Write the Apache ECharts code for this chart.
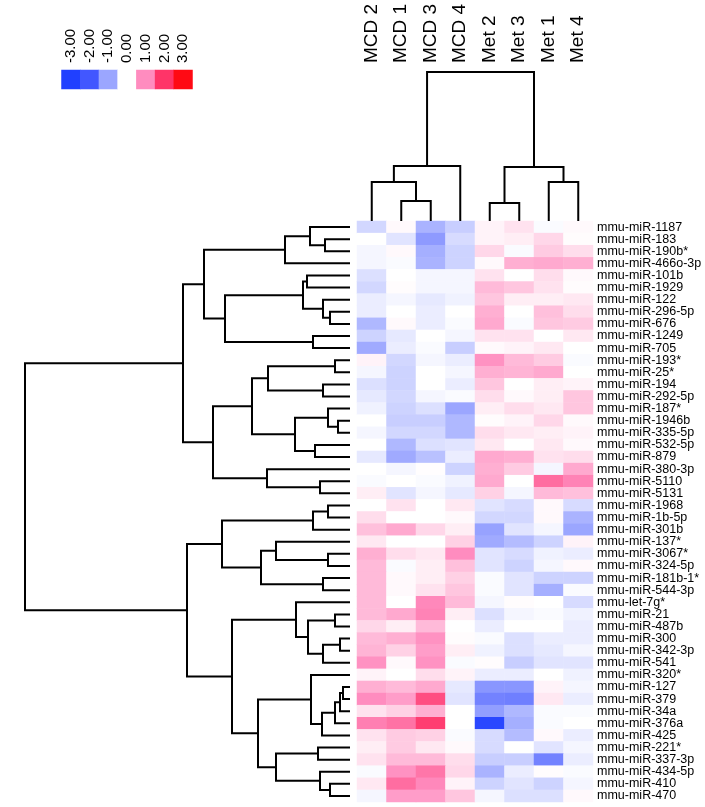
<!DOCTYPE html>
<html>
<head>
<meta charset="utf-8">
<script src="https://cdn.jsdelivr.net/npm/echarts@6/dist/echarts.min.js"></script>
<style>
html,body{margin:0;padding:0;background:#fff;}
#chart{width:705px;height:807px;}
</style>
</head>
<body>
<div id="chart"></div>
<script>
// Samples (columns, in dendrogram order)
const samples = ['MCD 2','MCD 1','MCD 3','MCD 4','Met 2','Met 3','Met 1','Met 4'];

// miRNAs (rows, in dendrogram order)
const mirnas = ['mmu-miR-1187','mmu-miR-183','mmu-miR-190b*','mmu-miR-466o-3p','mmu-miR-101b',
  'mmu-miR-1929','mmu-miR-122','mmu-miR-296-5p','mmu-miR-676','mmu-miR-1249','mmu-miR-705',
  'mmu-miR-193*','mmu-miR-25*','mmu-miR-194','mmu-miR-292-5p','mmu-miR-187*','mmu-miR-1946b',
  'mmu-miR-335-5p','mmu-miR-532-5p','mmu-miR-879','mmu-miR-380-3p','mmu-miR-5110','mmu-miR-5131',
  'mmu-miR-1968','mmu-miR-1b-5p','mmu-miR-301b','mmu-miR-137*','mmu-miR-3067*','mmu-miR-324-5p',
  'mmu-miR-181b-1*','mmu-miR-544-3p','mmu-let-7g*','mmu-miR-21','mmu-miR-487b','mmu-miR-300',
  'mmu-miR-342-3p','mmu-miR-541','mmu-miR-320*','mmu-miR-127','mmu-miR-379','mmu-miR-34a',
  'mmu-miR-376a','mmu-miR-425','mmu-miR-221*','mmu-miR-337-3p','mmu-miR-434-5p','mmu-miR-410','mmu-miR-470'];

// Standardised expression, one list per miRNA, columns in `samples` order
const values = [
  [-0.45, 0.05,-0.85,-0.55, 0.10, 0.25,-0.05, 0.05],
  [ 0.00,-0.30,-1.15,-0.40, 0.10, 0.15, 0.35, 0.03],
  [-0.10, 0.05,-0.90,-0.50, 0.35,-0.05, 0.45, 0.30],
  [-0.10,-0.05,-0.85,-0.50, 0.05, 0.70, 0.75, 0.70],
  [-0.35, 0.00,-0.10,-0.10, 0.25, 0.00, 0.30, 0.05],
  [-0.45, 0.03,-0.10,-0.10, 0.60, 0.50, 0.25, 0.03],
  [-0.20,-0.10,-0.25,-0.15, 0.50, 0.15, 0.15, 0.20],
  [-0.20, 0.00,-0.20, 0.00, 0.70, 0.00, 0.55, 0.30],
  [-0.80, 0.05,-0.20,-0.05, 0.75,-0.05, 0.50, 0.45],
  [-0.50,-0.25, 0.00,-0.10, 0.25, 0.25, 0.00, 0.20],
  [-0.95,-0.20,-0.05,-0.55, 0.05, 0.10, 0.20, 0.00],
  [ 0.10,-0.45,-0.10,-0.20, 0.95, 0.60, 0.45,-0.05],
  [-0.10,-0.50, 0.00,-0.10, 0.70, 0.65, 0.75, 0.00],
  [-0.35,-0.50, 0.00,-0.20, 0.50, 0.00, 0.15, 0.10],
  [-0.25,-0.45,-0.10,-0.05, 0.30, 0.05, 0.15, 0.50],
  [-0.15,-0.50,-0.35,-1.00, 0.15, 0.30, 0.20, 0.50],
  [ 0.00,-0.55,-0.55,-0.80, 0.03, 0.10, 0.35, 0.05],
  [-0.10,-0.45,-0.45,-0.80, 0.30, 0.20, 0.15, 0.10],
  [ 0.00,-0.80,-0.35,-0.30, 0.20, 0.00, 0.20, 0.05],
  [-0.25,-0.95,-0.70,-0.20, 0.75, 0.70, 0.25, 0.30],
  [ 0.00,-0.10, 0.02,-0.50, 0.70, 0.45,-0.10, 0.75],
  [-0.05, 0.00,-0.05,-0.15, 0.75, 0.00, 1.35, 1.10],
  [ 0.15,-0.30,-0.10,-0.25, 0.40,-0.10, 0.60, 0.55],
  [ 0.00, 0.25, 0.00, 0.20,-0.30,-0.40, 0.05,-0.40],
  [ 0.30, 0.00, 0.00, 0.05,-0.45,-0.45, 0.05,-0.85],
  [ 0.55, 0.75, 0.35, 0.15,-1.05,-0.30,-0.10,-1.00],
  [ 0.20, 0.00, 0.00, 0.40,-0.95,-0.75,-0.50, 0.10],
  [ 0.70, 0.30, 0.20, 1.00,-0.30,-0.40,-0.15,-0.20],
  [ 0.60,-0.05, 0.15, 0.55,-0.30,-0.50,-0.10, 0.05],
  [ 0.60, 0.05, 0.15, 0.40,-0.05,-0.30,-0.50,-0.50],
  [ 0.60, 0.05, 0.25, 0.50,-0.05,-0.30,-0.90,-0.05],
  [ 0.60, 0.00, 1.05, 0.60,-0.10, 0.03, 0.00,-0.40],
  [ 0.60, 0.75, 1.10, 0.15,-0.35,-0.10,-0.05,-0.15],
  [ 0.35, 0.15, 0.60, 0.00,-0.20, 0.00, 0.00,-0.20],
  [ 0.60, 0.70, 0.95, 0.03,-0.05,-0.35,-0.20,-0.20],
  [ 0.65, 0.40, 0.85, 0.15,-0.15,-0.35,-0.25,-0.10],
  [ 0.95, 0.05, 0.95,-0.05, 0.03,-0.55,-0.30,-0.30],
  [ 0.10, 0.00, 0.30, 0.10,-0.20,-0.20, 0.00,-0.15],
  [ 0.70, 0.60, 0.75,-0.25,-1.20,-1.20, 0.10,-0.10],
  [ 1.00, 0.85, 1.70,-0.30,-1.45,-1.50, 0.20,-0.20],
  [ 0.25, 0.40, 0.70, 0.00,-1.10,-0.80,-0.05,-0.05],
  [ 1.15, 1.30, 1.90, 0.00,-2.70,-0.90,-0.05, 0.00],
  [ 0.25, 0.45, 0.40,-0.05,-0.40,-0.75, 0.05,-0.20],
  [ 0.15, 0.45, 0.20, 0.05,-0.40, 0.00,-0.30,-0.10],
  [ 0.25, 0.60, 0.60, 0.30,-0.55,-0.55,-1.45,-0.20],
  [-0.05, 0.95, 1.25, 0.35,-0.85,-0.20, 0.03,-0.05],
  [ 0.20, 1.35, 1.05, 0.10,-0.50,-0.30,-0.50,-0.10],
  [-0.10, 0.85, 0.85, 0.50,-0.10,-0.35,-0.35, 0.05]
];

// Colour key
const legendTicks = ['-3.00','-2.00','-1.00','0.00','1.00','2.00','3.00'];
const legendValues = [-3,-2,-1,0,1,2,3];
const scaleColors = ['#2040ff','#4257ff','#9ba6ff','#ffffff','#ff8cbf','#ff3468','#ff0a14'];

// Dendrograms: [left, right, mergeHeight]; leaves are display indices
const colTree = [[[0,[1,2,20],39],3,55],[[4,5,18],[6,7,39],54],149];
const rowTree = [
  [
    [[[0,[1,2,25],40],3,65],
     [[[4,5,43],[6,[7,8,20],27],47],[9,10,37],125],146],
    [[[[11,12,15],[13,14,27],82],[[15,[16,17,12],22],[18,19,35],55],98],
     [20,[21,22,30],83],137],
    167],
  [
    [[[23,24,22],25,37],[[26,[27,28,22],74],[29,30,27],89],128],
    [[31,[[32,33,15],[[34,35,10],36,27],42],54],
     [[37,[[[[38,39,7],40,10],41,15],42,28],39],
      [[43,44,32],[45,[46,47,20],30],74],92],118],
    163],
  325];

function linkSegments(tree){
  const segs = [];
  function walk(n){
    if (typeof n === 'number') return {p: n + 0.5, h: 0};
    const a = walk(n[0]), b = walk(n[1]);
    segs.push([a.p, a.h, b.p, b.h, n[2]]);
    return {p: (a.p + b.p) / 2, h: n[2]};
  }
  walk(tree);
  return segs;
}

const heatData = [];
values.forEach((row, r) => row.forEach((v, c) => heatData.push([c, r, v])));
const legendData = legendValues.map((v, i) => [i, 0, v]);

const FONT = 'Liberation Sans, Arial, Helvetica, sans-serif';
const TOP = 221, H = 581;
const G = {outerBoundsMode: 'none', containLabel: false};

const chart = echarts.init(document.getElementById('chart'), null, {renderer: 'canvas'});
chart.setOption({
  animation: false,
  backgroundColor: '#ffffff',
  visualMap: {
    type: 'continuous', show: false, min: -3, max: 3, seriesIndex: [0, 1],
    inRange: {color: scaleColors}
  },
  grid: [
    Object.assign({left: 357, width: 236, top: TOP, height: H}, G),            // heatmap
    Object.assign({left: 61.5, width: 131, top: 70, height: 19}, G),           // colour key
    Object.assign({left: 25, width: 325, top: TOP, height: H}, G),             // row dendrogram
    Object.assign({left: 357, width: 236, top: TOP - 149, height: 149}, G)     // column dendrogram
  ],
  xAxis: [
    {gridIndex: 0, type: 'category', data: samples, position: 'top',
     axisLine: {show: false}, axisTick: {show: false}, splitLine: {show: false},
     axisLabel: {rotate: -90, margin: 158, fontSize: 19, color: '#000', fontFamily: FONT, interval: 0}},
    {gridIndex: 1, type: 'category', data: legendTicks, position: 'top',
     axisLine: {show: false}, axisTick: {show: false},
     axisLabel: {rotate: -90, margin: 7, fontSize: 15, color: '#000', fontFamily: FONT, interval: 0, hideOverlap: false}},
    {gridIndex: 2, type: 'value', min: 0, max: 325, inverse: true, show: false},
    {gridIndex: 3, type: 'value', min: 0, max: 8, show: false}
  ],
  yAxis: [
    {gridIndex: 0, type: 'category', data: mirnas, inverse: true, position: 'right',
     axisLine: {show: false}, axisTick: {show: false}, splitLine: {show: false},
     axisLabel: {margin: 4, fontSize: 12.5, color: '#000', fontFamily: FONT, interval: 0, hideOverlap: false}},
    {gridIndex: 1, type: 'category', data: [''], show: false},
    {gridIndex: 2, type: 'value', min: 0, max: mirnas.length, inverse: true, show: false},
    {gridIndex: 3, type: 'value', min: 0, max: 149, show: false}
  ],
  series: [
    {type: 'heatmap', xAxisIndex: 0, yAxisIndex: 0, data: heatData,
     itemStyle: {borderWidth: 0}, emphasis: {disabled: true}, progressive: 0},
    {type: 'heatmap', xAxisIndex: 1, yAxisIndex: 1, data: legendData,
     itemStyle: {borderWidth: 0}, emphasis: {disabled: true}},
    {type: 'custom', xAxisIndex: 2, yAxisIndex: 2, data: linkSegments(rowTree), silent: true,
     renderItem: function(params, api){
       const p1 = api.value(0), h1 = api.value(1), p2 = api.value(2), h2 = api.value(3), h = api.value(4);
       return {type: 'polyline', shape: {points: [
         api.coord([h1, p1]), api.coord([h, p1]), api.coord([h, p2]), api.coord([h2, p2])]},
         style: {stroke: '#000', lineWidth: 2, fill: null}};
     }},
    {type: 'custom', xAxisIndex: 3, yAxisIndex: 3, data: linkSegments(colTree), silent: true,
     renderItem: function(params, api){
       const p1 = api.value(0), h1 = api.value(1), p2 = api.value(2), h2 = api.value(3), h = api.value(4);
       return {type: 'polyline', shape: {points: [
         api.coord([p1, h1]), api.coord([p1, h]), api.coord([p2, h]), api.coord([p2, h2])]},
         style: {stroke: '#000', lineWidth: 2, fill: null}};
     }}
  ]
});
</script>
</body>
</html>
